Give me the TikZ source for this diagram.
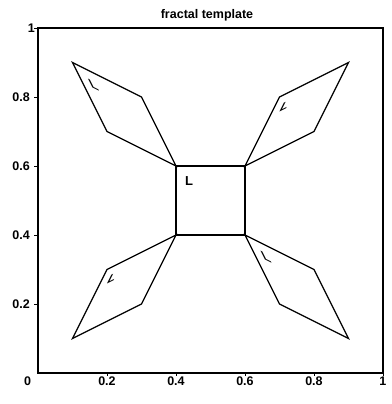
\documentclass[tikz,border=0pt]{standalone}
\usepackage{fontspec}
\setmainfont{Liberation Sans}

\begin{document}
\begin{tikzpicture}[
  x=345pt, y=345pt,
  frame/.style={line width=1.2pt},
  piece/.style={line width=1.2pt, line join=miter},
  letter/.style={font=\fontsize{13}{15}\selectfont\bfseries, inner sep=0pt},
  ticklab/.style={font=\fontsize{12.5}{14}\selectfont\bfseries, inner sep=0pt}
]
  \useasboundingbox (-0.1101,-0.0899) rectangle (1.0261,1.0812);

  % axes
  \draw[frame] (0,0) rectangle (1,1);
  \node[font=\fontsize{12.5}{14}\selectfont\bfseries] (title) at (0.49,1.037) {fractal template};
  \foreach \t/\n in {0.2/2,0.4/4,0.6/6,0.8/8} {
    \draw[line width=0.8pt] (\t,0) -- ++(0,-3pt);
    \draw[line width=0.8pt] (0,\t) -- ++(-4pt,0);
    \node[ticklab, anchor=north] (xlab\n) at ([yshift=-4pt]\t,0) {\t};
    \node[ticklab, anchor=east] (ylab\n) at ([xshift=-8pt]0,\t) {\t};
  }
  \draw[line width=0.8pt] (1,0) -- ++(0,-3pt);
  \draw[line width=0.8pt] (0,1) -- ++(-4pt,0);
  \node[ticklab, anchor=north] (xlab1) at ([yshift=-4pt]1,0) {1};
  \node[ticklab, anchor=east] (ylab1) at ([xshift=-3pt]0,1) {1};
  \node[ticklab] (zero) at (-0.030,-0.024) {0};

  % centre square
  \draw[piece] (0.4,0.4) rectangle (0.6,0.6);
  \node[letter] (L0) at (0.4377,0.555) {L};

  % four rhombi
  \draw[piece] (0.4,0.6) -- (0.3,0.8) -- (0.1,0.9) -- (0.2,0.7) -- cycle;
  \draw[piece] (0.6,0.6) -- (0.7,0.8) -- (0.9,0.9) -- (0.8,0.7) -- cycle;
  \draw[piece] (0.4,0.4) -- (0.3,0.2) -- (0.1,0.1) -- (0.2,0.3) -- cycle;
  \draw[piece] (0.6,0.4) -- (0.7,0.2) -- (0.9,0.1) -- (0.8,0.3) -- cycle;

  % the L under each map
  \begin{scope}[cm={1,-0.5,-0.5,1,(0,0.5)}]
    \node[letter, transform shape] (L1) at (0.4377,0.555) {L};
  \end{scope}
  \begin{scope}[cm={1,0.5,0.5,1,(0,0)}]
    \node[letter, transform shape] (L2) at (0.4377,0.555) {L};
  \end{scope}
  \begin{scope}[cm={1,0.5,0.5,1,(-0.5,-0.5)}]
    \node[letter, transform shape] (L3) at (0.4377,0.555) {L};
  \end{scope}
  \begin{scope}[cm={1,-0.5,-0.5,1,(0.5,0)}]
    \node[letter, transform shape] (L4) at (0.4377,0.555) {L};
  \end{scope}
\end{tikzpicture}
\end{document}
